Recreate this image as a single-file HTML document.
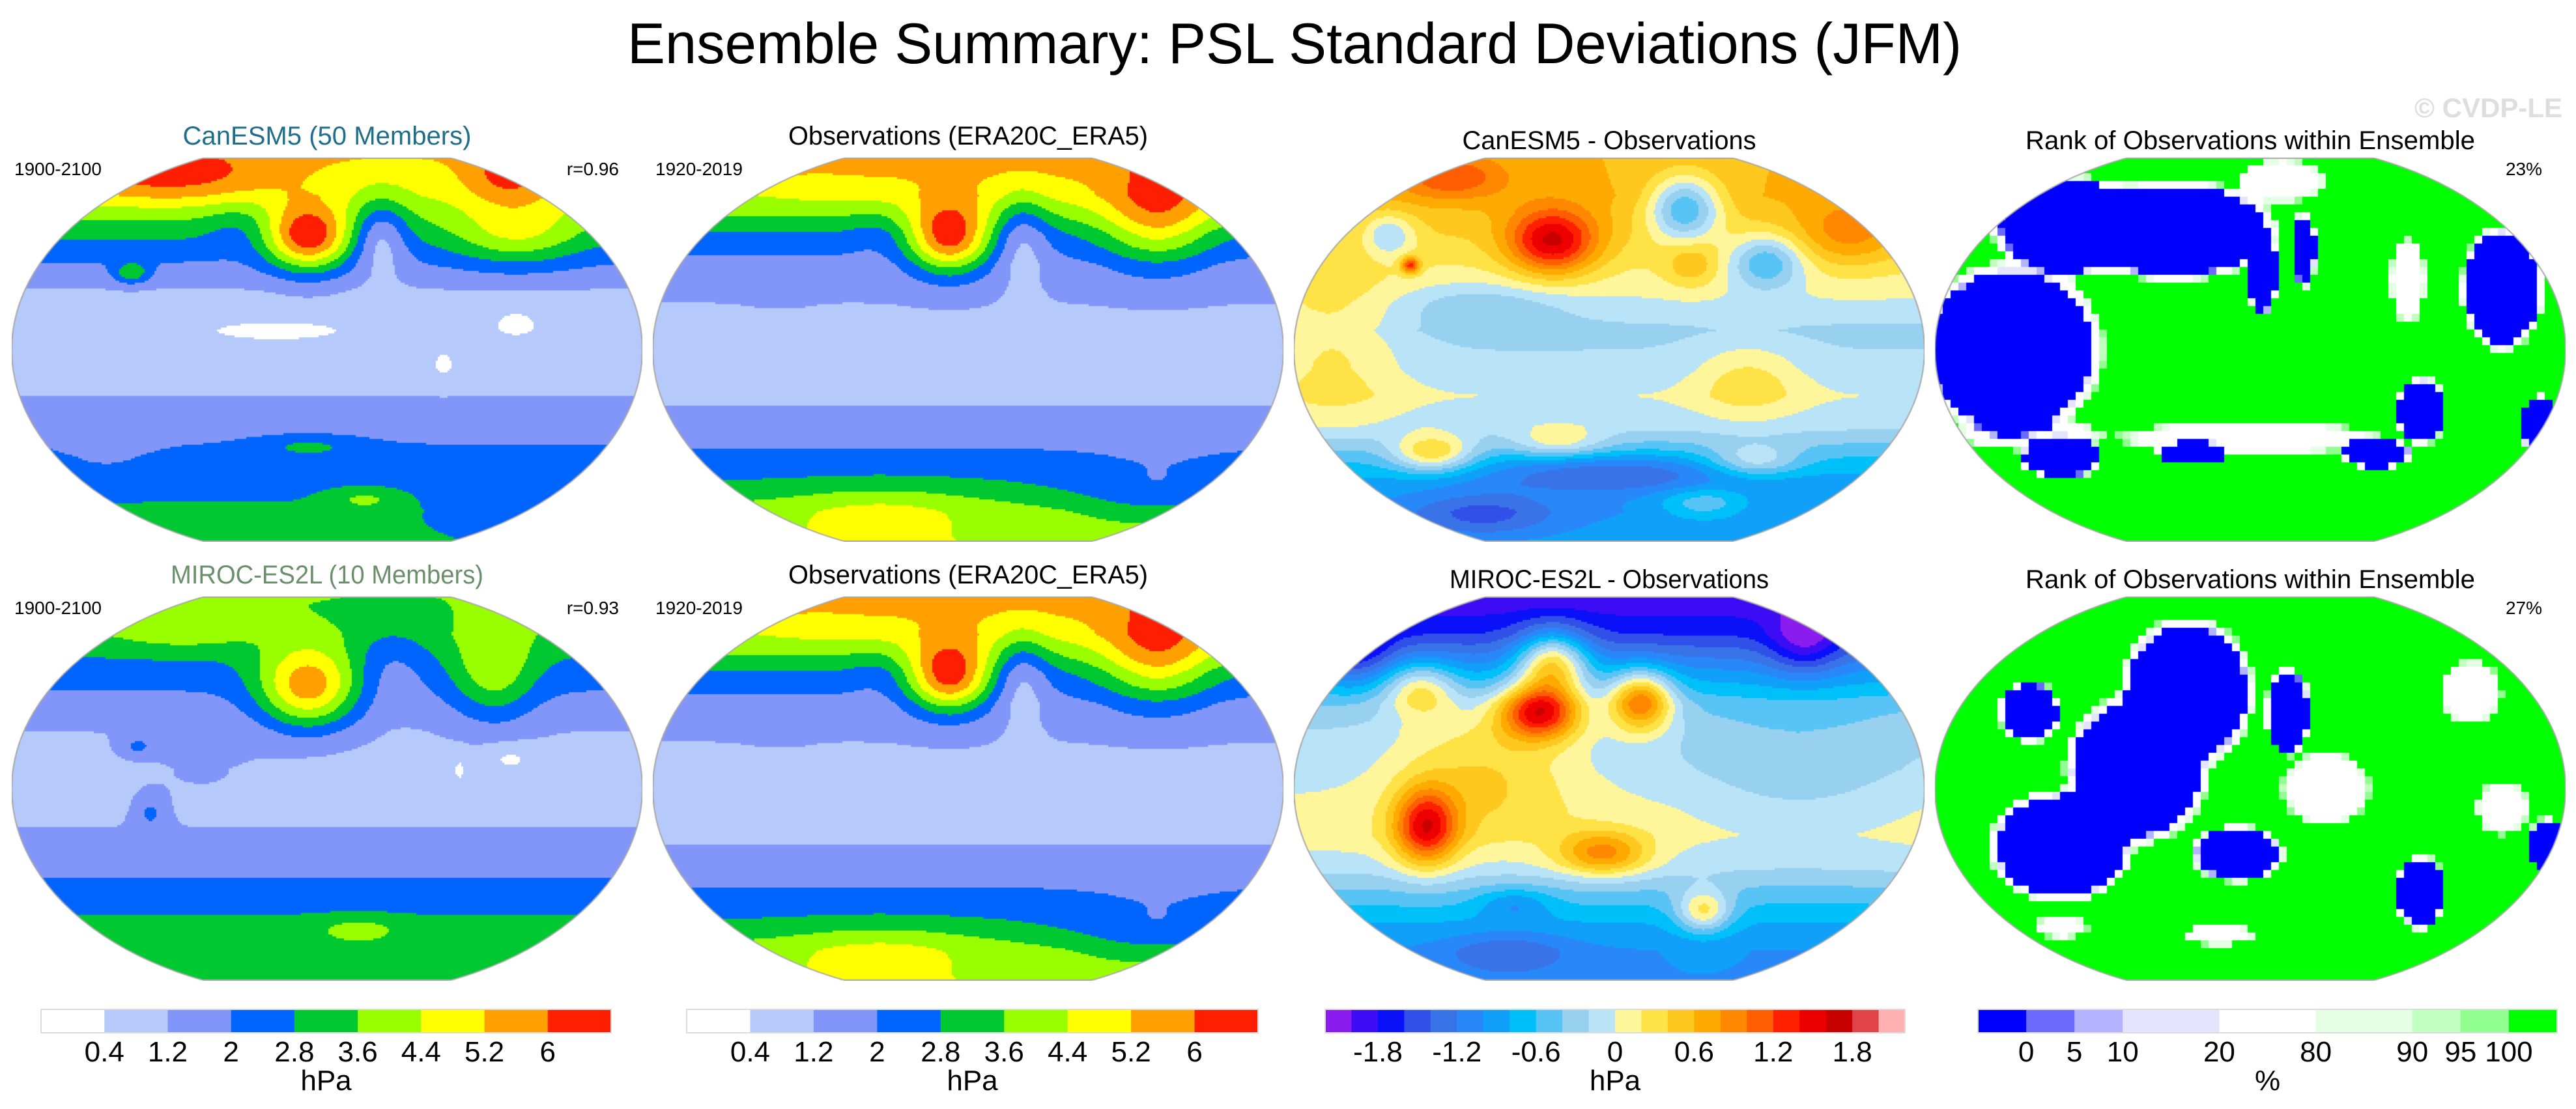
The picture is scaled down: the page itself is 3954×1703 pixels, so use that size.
<!DOCTYPE html>
<html><head><meta charset="utf-8">
<style>
html,body{margin:0;padding:0;background:#fff;}
#root{position:relative;width:3954px;height:1703px;overflow:hidden;background:#fff;font-family:"Liberation Sans",Arial,sans-serif;}
canvas{position:absolute;}
svg{position:absolute;left:0;top:0;}
</style></head>
<body>
<div id="root">
<svg id="txt" width="3954" height="1703"></svg>
</div>
<script>
// ---------- colour scales ----------
const stdLevels = [0.4,1.2,2,2.8,3.6,4.4,5.2,6];
const stdColors = ["#ffffff","#b5c9fb","#8296fa","#0064ff","#00c830","#99ff00","#ffff00","#ffa000","#ff1e00"];
const stdTickLabels = ["0.4","1.2","2","2.8","3.6","4.4","5.2","6"];
const diffLevels = [-2.0,-1.8,-1.6,-1.4,-1.2,-1.0,-0.8,-0.6,-0.4,-0.2,0,0.2,0.4,0.6,0.8,1.0,1.2,1.4,1.6,1.8,2.0];
const diffColors = ["#8a1cf0","#3c0cf5","#0a10f8","#3050e8","#3874e8","#2888fa","#10a0fa","#00c0fa","#58c4f6","#98d0f0","#b9e3f7","#fff59a","#ffe246","#ffc81e","#ffaa00","#ff8800","#ff5e00","#ff2000","#ee0000","#c80000","#e04448","#ffb0b0"];
const diffTickLabels = ["-1.8","-1.2","-0.6","0","0.6","1.2","1.8"];
const diffTickLevelIdx = [1,4,7,10,13,16,19];
const rankLevels = [0,5,10,20,80,90,95,100];
const rankColors = ["#0000ff","#6a6aff","#b3b3ff","#e4e4ff","#ffffff","#e4ffe4","#c0ffc0","#90ff90","#00ff00"];
const rankBoxUnits = [1,1,1,2,2,2,1,1,1];
const rankTickLabels = ["0","5","10","20","80","90","95","100"];

// ---------- field data (latitude profiles + anomalies [u,v,sx,sy,amp]) ----------
const profV = [0,0.1,0.2,0.28,0.35,0.45,0.55,0.62,0.7,0.78,0.85,0.92,1.0];
const canStdProfile = [5.2,4.4,3.0,1.9,1.1,0.8,0.9,1.2,1.6,2.3,2.6,2.9,2.9];
const canStdBlobs = [[0.47,0.21,0.045,0.06,3.8],[0.25,0.05,0.12,0.05,1.6],[0.79,0.05,0.05,0.05,1.5],[0.585,0.2,0.03,0.07,-1.8],[0.8,0.2,0.07,0.06,1.6],[0.36,0.18,0.04,0.05,-0.6],[0.42,0.45,0.09,0.022,-0.7],[0.8,0.43,0.03,0.03,-0.7],[0.685,0.54,0.014,0.03,-0.7],[0.47,0.75,0.06,0.02,0.9],[0.56,0.89,0.04,0.02,1.0],[0.19,0.3,0.02,0.02,1.8],[0.85,0.92,0.1,0.05,-0.8],[0.15,0.78,0.06,0.04,-0.4]];
const obsStdProfile = [5.7,4.7,2.7,1.7,1.3,0.95,0.9,1.05,1.5,2.2,2.9,3.9,4.3];
const obsStdBlobs = [[0.47,0.21,0.045,0.065,3.9],[0.585,0.2,0.03,0.08,-1.4],[0.36,0.2,0.035,0.05,-0.4],[0.8,0.16,0.06,0.09,2.2],[0.36,0.92,0.1,0.05,0.8],[0.8,0.88,0.1,0.06,-1.0],[0.2,0.35,0.03,0.02,0.6],[0.12,0.05,0.08,0.05,-0.6],[0.22,0.02,0.02,0.015,0.8]];
const mirStdProfile = [3.6,3.3,2.4,1.7,1.2,0.85,0.9,1.3,1.8,2.3,3.0,3.1,3.1];
const mirStdBlobs = [[0.47,0.24,0.055,0.075,3.6],[0.765,0.2,0.045,0.09,1.8],[0.6,0.18,0.04,0.08,-0.8],[0.27,0.08,0.08,0.04,1.0],[0.79,0.42,0.03,0.025,-0.7],[0.71,0.45,0.008,0.03,-0.6],[0.22,0.56,0.02,0.035,1.1],[0.55,0.87,0.05,0.025,0.9],[0.2,0.39,0.02,0.02,1.0],[0.3,0.45,0.08,0.06,0.4]];
const canDiffProfile = [0.6,0.6,0.4,0.2,0.05,-0.25,-0.15,0.0,-0.15,-0.6,-0.9,-1.0,-0.9];
const canDiffBlobs = [[0.41,0.22,0.05,0.06,1.3],[0.25,0.05,0.06,0.04,0.6],[0.185,0.28,0.01,0.015,1.1],[0.62,0.13,0.04,0.06,-1.1],[0.75,0.27,0.04,0.05,-0.8],[0.88,0.2,0.06,0.06,0.5],[0.22,0.77,0.045,0.035,0.9],[0.3,0.38,0.1,0.04,-0.3],[0.5,0.82,0.14,0.035,-0.6],[0.3,0.93,0.08,0.04,-0.5],[0.06,0.5,0.08,0.15,0.4],[0.72,0.58,0.06,0.07,0.4],[0.73,0.79,0.05,0.03,0.6],[0.15,0.2,0.03,0.04,-0.6],[0.63,0.28,0.03,0.04,0.4],[0.42,0.74,0.05,0.03,0.5],[0.65,0.9,0.05,0.03,0.5]];
const mirDiffProfile = [-2.0,-1.6,-0.9,-0.4,-0.2,-0.1,0.05,0.1,-0.1,-0.5,-0.8,-1.0,-1.0];
const mirDiffBlobs = [[0.39,0.3,0.045,0.05,1.7],[0.55,0.27,0.035,0.055,1.4],[0.41,0.17,0.04,0.06,1.4],[0.21,0.6,0.035,0.07,1.4],[0.3,0.45,0.1,0.12,0.5],[0.49,0.67,0.05,0.04,0.9],[0.1,0.14,0.04,0.06,-0.6],[0.81,0.12,0.04,0.06,-0.6],[0.2,0.24,0.04,0.05,0.8],[0.65,0.82,0.03,0.04,0.9],[0.8,0.45,0.12,0.15,-0.25],[0.34,0.93,0.07,0.04,-0.4],[0.35,0.8,0.04,0.03,-0.4]];
const canRankProfile = [130,130,130,130,130,130,130,130,130,130,130,130,130];
const canRankBlobs = [[0.12,0.5,0.09,0.14,-400],[0.38,0.19,0.1,0.08,-400],[0.22,0.18,0.08,0.08,-400],[0.52,0.3,0.015,0.07,-400],[0.585,0.24,0.012,0.06,-400],[0.2,0.78,0.04,0.035,-400],[0.41,0.77,0.035,0.02,-400],[0.7,0.77,0.035,0.025,-400],[0.77,0.66,0.025,0.055,-400],[0.96,0.7,0.02,0.05,-400],[0.9,0.34,0.04,0.1,-400],[0.5,0.73,0.15,0.03,-80],[0.55,0.06,0.05,0.04,-80],[0.75,0.32,0.02,0.08,-80],[0.15,0.72,0.08,0.03,-80]];
const mirRankProfile = [130,130,130,130,130,130,130,130,130,130,130,130,130];
const mirRankBlobs = [[0.4,0.25,0.065,0.12,-400],[0.32,0.45,0.07,0.12,-400],[0.2,0.65,0.07,0.09,-400],[0.48,0.67,0.045,0.045,-400],[0.56,0.3,0.022,0.07,-400],[0.77,0.77,0.025,0.06,-400],[0.97,0.65,0.018,0.045,-400],[0.15,0.3,0.03,0.05,-400],[0.62,0.5,0.05,0.07,-80],[0.85,0.25,0.035,0.06,-80],[0.45,0.88,0.04,0.02,-80],[0.2,0.86,0.03,0.02,-80],[0.9,0.55,0.03,0.05,-80]];

// ---------- layout ----------
const MW = 968, MH = 590, MX0 = 18, MDX = 984, ROWY = [242, 916];
const SVGNS = "http://www.w3.org/2000/svg";
const svg = document.getElementById('txt');
const root = document.getElementById('root');

function profileAt(prof, v){
  for (let i=0;i<profV.length-1;i++){
    if (v<=profV[i+1]){ const t=(v-profV[i])/(profV[i+1]-profV[i]); return prof[i]+(prof[i+1]-prof[i])*t; }
  }
  return prof[prof.length-1];
}
function fieldAt(prof, blobs, u, v, sharp){
  let f = profileAt(prof, v);
  for (const b of blobs){
    const du=(u-b[0])/b[2], dv=(v-b[1])/b[3], d=(du*du+dv*dv)/2;
    f += b[4]*(sharp ? Math.exp(-Math.pow(d,3)) : Math.exp(-d));
  }
  return f;
}
function colorFor(val, levels, colors){
  let i=0; while(i<levels.length && val>=levels[i]) i++; return colors[i];
}
function mapShape(ctx){
  ctx.beginPath();
  ctx.ellipse(MW/2, MH/2, MW/2, 320, 0, 0, Math.PI*2);
}
function drawMap(col, row, prof, blobs, levels, colors, step, sharp, name){
  const c = document.createElement('canvas');
  c.width = MW; c.height = MH;
  c.style.left = (MX0 + col*MDX) + 'px'; c.style.top = ROWY[row] + 'px';
  
  
  root.appendChild(c);
  const ctx = c.getContext('2d');
  ctx.save(); mapShape(ctx); ctx.clip();
  for (let y=0;y<MH;y+=step){
    for (let x=0;x<MW;x+=step){
      const val = fieldAt(prof, blobs, (x+step/2)/MW, (y+step/2)/MH, sharp);
      ctx.fillStyle = colorFor(val, levels, colors);
      ctx.fillRect(x, y, step+0.5, step+0.5);
    }
  }
  ctx.restore();
  ctx.save(); ctx.beginPath(); ctx.rect(0,0.5,MW,MH-1); ctx.clip();
  mapShape(ctx); ctx.strokeStyle="#a8a8a8"; ctx.lineWidth=2; ctx.stroke(); ctx.restore();
  const dx = MW/2*Math.sqrt(1-Math.pow((MH/2-1)/320,2));
  ctx.strokeStyle="#a8a8a8"; ctx.lineWidth=2;
  ctx.beginPath(); ctx.moveTo(MW/2-dx,1); ctx.lineTo(MW/2+dx,1); ctx.moveTo(MW/2-dx,MH-1); ctx.lineTo(MW/2+dx,MH-1); ctx.stroke();
}
drawMap(0,0,canStdProfile,canStdBlobs,stdLevels,stdColors,3,false,'canesm5-std-map');
drawMap(1,0,obsStdProfile,obsStdBlobs,stdLevels,stdColors,3,false,'obs-std-map-top');
drawMap(2,0,canDiffProfile,canDiffBlobs,diffLevels,diffColors,3,false,'canesm5-minus-obs-map');
drawMap(3,0,canRankProfile,canRankBlobs,rankLevels,rankColors,12,true,'canesm5-rank-map');
drawMap(0,1,mirStdProfile,mirStdBlobs,stdLevels,stdColors,3,false,'miroc-std-map');
drawMap(1,1,obsStdProfile,obsStdBlobs,stdLevels,stdColors,3,false,'obs-std-map-bottom');
drawMap(2,1,mirDiffProfile,mirDiffBlobs,diffLevels,diffColors,3,false,'miroc-minus-obs-map');
drawMap(3,1,mirRankProfile,mirRankBlobs,rankLevels,rankColors,12,true,'miroc-rank-map');
root.appendChild(svg);

// ---------- text ----------
function txt(x,y,s,size,opts){
  const t=document.createElementNS(SVGNS,'text');
  t.setAttribute('x',x); t.setAttribute('y',y); t.setAttribute('font-size',size);
  t.setAttribute('font-family','"Liberation Sans", Arial, sans-serif');
  t.setAttribute('text-anchor',(opts&&opts.anchor)||'start');
  t.setAttribute('fill',(opts&&opts.fill)||'#000');
  if(opts&&opts.weight) t.setAttribute('font-weight',opts.weight);
  if(opts&&opts.len){ t.setAttribute('textLength',opts.len); t.setAttribute('lengthAdjust','spacingAndGlyphs'); }
  t.textContent=s; svg.appendChild(t); return t;
}
let e;
e=txt(1987,97,'Ensemble Summary: PSL Standard Deviations (JFM)',88,{anchor:'middle',len:2048});


e=txt(3933,180,'© CVDP-LE',42,{anchor:'end',fill:'#dedede',weight:'bold'});



const panelTitles = [
  ['CanESM5 (50 Members)','#1f6e8c',443,222],['Observations (ERA20C_ERA5)','#000',552,222],['CanESM5 - Observations','#000',451,229],['Rank of Observations within Ensemble','#000',690,229],
  ['MIROC-ES2L (10 Members)','#6b8f6b',480,896],['Observations (ERA20C_ERA5)','#000',552,896],['MIROC-ES2L - Observations','#000',490,903],['Rank of Observations within Ensemble','#000',690,903]
];
panelTitles.forEach((p,i)=>{
  const col=i%4;
  const t=txt(MX0+col*MDX+MW/2,p[3],p[0],40,{anchor:'middle',fill:p[1],len:p[2]});
  
  
});
const sideLabels = [[0,0,'1900-2100','start'],[0,0,'r=0.96','end'],[1,0,'1920-2019','start'],[3,0,'23%','end'],[0,1,'1900-2100','start'],[0,1,'r=0.93','end'],[1,1,'1920-2019','start'],[3,1,'27%','end']];
sideLabels.forEach(s=>{
  const x = s[3]==='start' ? MX0+s[0]*MDX+4 : MX0+s[0]*MDX+MW-36;
  const t=txt(x, ROWY[s[1]]+27, s[2], 28, {anchor:s[3]});
  
  
});

// ---------- colorbars ----------
function colorbar(x0,x1,colors,units,tickUnitPos,labels,unit,name){
  const g=document.createElementNS(SVGNS,'g');
  
  
  svg.appendChild(g);
  const total=units.reduce((a,b)=>a+b,0), w=(x1-x0)/total;
  let acc=0;
  colors.forEach((c,i)=>{
    const r=document.createElementNS(SVGNS,'rect');
    r.setAttribute('x',x0+acc*w); r.setAttribute('y',1550); r.setAttribute('width',units[i]*w+0.5); r.setAttribute('height',36);
    r.setAttribute('fill',c);
    
    
    g.appendChild(r); acc+=units[i];
  });
  const b=document.createElementNS(SVGNS,'rect');
  b.setAttribute('x',x0); b.setAttribute('y',1550); b.setAttribute('width',x1-x0); b.setAttribute('height',36);
  b.setAttribute('fill','none'); b.setAttribute('stroke','#dcdcdc'); b.setAttribute('stroke-width',2);
  g.appendChild(b);
  labels.forEach((l,i)=>{
    const t=txt(x0+tickUnitPos[i]*w,1630,l,44,{anchor:'middle'});
    
    
  });
  const t=txt((x0+x1)/2,1674,unit,44,{anchor:'middle'});
  
  
}
const ones9=stdColors.map(()=>1);
const stdPos=stdLevels.map((_,i)=>i+1);
colorbar(63,938,stdColors,ones9,stdPos,stdTickLabels,'hPa','colorbar-std-1');
colorbar(1054,1931,stdColors,ones9,stdPos,stdTickLabels,'hPa','colorbar-std-2');
colorbar(2034,2924,diffColors,diffColors.map(()=>1),diffTickLevelIdx.map(i=>i+1),diffTickLabels,'hPa','colorbar-diff');
const rankPos=[]; {let a=0; for(let i=0;i<rankLevels.length;i++){a+=rankBoxUnits[i]; rankPos.push(a);} }
colorbar(3036,3925,rankColors,rankBoxUnits,rankPos,rankTickLabels,'%','colorbar-rank');
</script>
</body></html>
